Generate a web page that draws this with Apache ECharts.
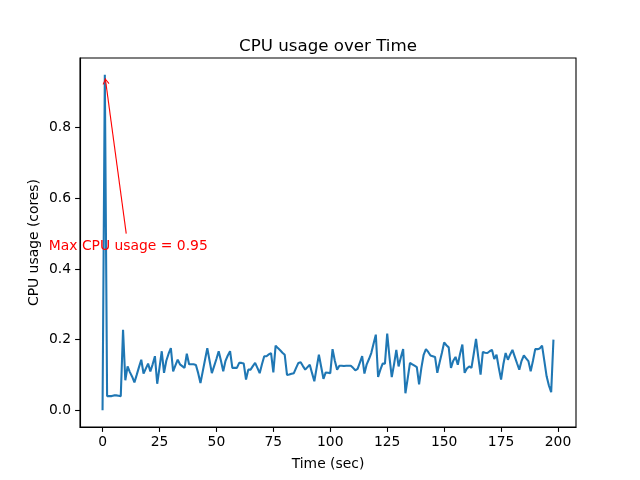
<!DOCTYPE html>
<html>
<head>
<meta charset="utf-8">
<script src="https://cdn.jsdelivr.net/npm/echarts@6/dist/echarts.min.js"></script>
<style>html,body{margin:0;padding:0;background:#fff}#c{width:640px;height:480px}</style>
</head>
<body>
<div id="c"></div>
<script>
const times = [
0,1,2,3,4,5,6,7,8,9,10,11,12,13,14,15,16,17,18,19,
20,21,22,23,24,25,26,27,28,29,30,31,32,33,34,35,36,37,38,39,
40,41,42,43,44,45,46,47,48,49,50,51,52,53,54,55,56,57,58,59,
60,61,62,63,64,65,66,67,68,69,70,71,72,73,74,75,76,77,78,79,
80,81,82,83,84,85,86,87,88,89,90,91,92,93,94,95,96,97,98,99,
100,101,102,103,104,105,106,107,108,109,110,111,112,113,114,115,116,117,118,119,
120,121,122,123,124,125,126,127,128,129,130,131,132,133,134,135,136,137,138,139,
140,141,142,143,144,145,146,147,148,149,150,151,152,153,154,155,156,157,158,159,
160,161,162,163,164,165,166,167,168,169,170,171,172,173,174,175,176,177,178,179,
180,181,182,183,184,185,186,187,188,189,190,191,192,193,194,195,196,197,198
];
const cpuUsage = [
0.0,0.95,0.04,0.04,0.04,0.042,0.042,0.041,0.04,0.228,
0.085,0.124,0.108,0.095,0.079,0.1,0.122,0.143,0.104,0.118,
0.132,0.11,0.13,0.153,0.075,0.12,0.167,0.106,0.14,0.16,
0.176,0.11,0.127,0.143,0.13,0.125,0.12,0.16,0.13,0.13,
0.13,0.128,0.105,0.077,0.11,0.143,0.176,0.14,0.105,0.125,
0.145,0.167,0.14,0.11,0.14,0.155,0.167,0.12,0.12,0.12,
0.134,0.134,0.132,0.087,0.115,0.115,0.125,0.134,0.12,0.105,
0.13,0.153,0.153,0.158,0.162,0.107,0.183,0.176,0.17,0.163,
0.157,0.1,0.101,0.103,0.105,0.12,0.134,0.136,0.125,0.115,
0.122,0.129,0.105,0.082,0.12,0.157,0.123,0.089,0.107,0.106,
0.105,0.173,0.14,0.115,0.126,0.126,0.125,0.126,0.126,0.126,
0.12,0.113,0.117,0.135,0.153,0.104,0.13,0.145,0.162,0.188,
0.214,0.094,0.115,0.132,0.132,0.217,0.15,0.094,0.13,0.171,
0.124,0.15,0.173,0.048,0.09,0.134,0.13,0.126,0.122,0.073,
0.12,0.157,0.173,0.165,0.155,0.153,0.151,0.106,0.135,0.162,
0.192,0.184,0.178,0.12,0.14,0.151,0.129,0.16,0.186,0.106,
0.118,0.124,0.12,0.16,0.202,0.15,0.101,0.165,0.163,0.162,
0.167,0.171,0.145,0.157,0.12,0.087,0.13,0.162,0.143,0.158,
0.171,0.152,0.133,0.115,0.14,0.155,0.147,0.139,0.11,0.14,
0.173,0.173,0.175,0.183,0.14,0.096,0.07,0.051,0.2
];
const xTicks = [0,25,50,75,100,125,150,175,200];
const yTicks = [0,0.2,0.4,0.6,0.8];
const xRange = [-9.9, 207.9];
const yRange = [-0.0475, 0.9975];
const annotationText = 'Max CPU usage = 0.95';
const arrowTail = [10.4, 0.5];
const arrowTip = [1.2, 0.94];
const textPos = [11.3, 0.463];

const FONT = 'DejaVu Sans';
const data = times.map((t, i) => [t, cpuUsage[i]]);
const chevron = 'path://M0,0 L0.01,0 L0,0.01 Z M0,6 L3.4,11.6 L2.6,12.1 L0,7.8 L-2.6,12.1 L-3.4,11.6 Z';

const chart = echarts.init(document.getElementById('c'), null, {renderer: 'canvas'});
chart.setOption({
  animation: false,
  backgroundColor: '#ffffff',
  title: {
    text: 'CPU usage over Time',
    left: 323, textAlign: 'center', top: 33,
    textStyle: {fontFamily: FONT, fontSize: 16.67, fontWeight: 'normal', color: '#000'}
  },
  grid: {left: 80, right: 64, top: 58, bottom: 53, show: true, borderColor: '#000', borderWidth: 1.1, backgroundColor: 'transparent'},
  xAxis: {
    type: 'value', min: xRange[0], max: xRange[1],
    name: 'Time (sec)', nameLocation: 'middle', nameGap: 30,
    nameTextStyle: {fontFamily: FONT, fontSize: 13.89, color: '#000'},
    axisLine: {show: true, onZero: false, lineStyle: {color: '#000', width: 1.1}},
    axisTick: {show: true, length: 4.9, lineStyle: {color: '#000', width: 1.1}, customValues: xTicks},
    axisLabel: {fontFamily: FONT, fontSize: 13.89, color: '#000', margin: 8, customValues: xTicks, formatter: v => String(v)},
    splitLine: {show: false}
  },
  yAxis: {
    type: 'value', min: yRange[0], max: yRange[1],
    name: 'CPU usage (cores)', nameLocation: 'middle', nameGap: 39, nameMoveOverlap: false,
    nameTextStyle: {fontFamily: FONT, fontSize: 13.89, color: '#000'},
    axisLine: {show: true, onZero: false, lineStyle: {color: '#000', width: 1.1}},
    axisTick: {show: true, length: 4.9, lineStyle: {color: '#000', width: 1.1}, customValues: yTicks},
    axisLabel: {fontFamily: FONT, fontSize: 13.89, color: '#000', margin: 9, customValues: yTicks, formatter: v => v.toFixed(1)},
    splitLine: {show: false}
  },
  series: [{
    type: 'line',
    data: data,
    showSymbol: false,
    symbol: 'none',
    lineStyle: {color: '#1f77b4', width: 2.08},
    itemStyle: {color: '#1f77b4'},
    silent: true,
    markLine: {
      silent: true,
      symbol: ['none', chevron],
      symbolSize: [6.8, 12.1],
      lineStyle: {color: '#ff0000', width: 1.1, type: 'solid'},
      label: {show: false},
      emphasis: {disabled: true},
      data: [[{coord: arrowTail}, {coord: arrowTip}]]
    },
    markPoint: {
      silent: true,
      symbol: 'circle',
      symbolSize: 1,
      itemStyle: {color: 'rgba(0,0,0,0)'},
      label: {show: true, position: 'inside', formatter: annotationText, color: '#ff0000', fontFamily: FONT, fontSize: 13.89},
      data: [{coord: textPos}]
    }
  }]
});
</script>
</body>
</html>
